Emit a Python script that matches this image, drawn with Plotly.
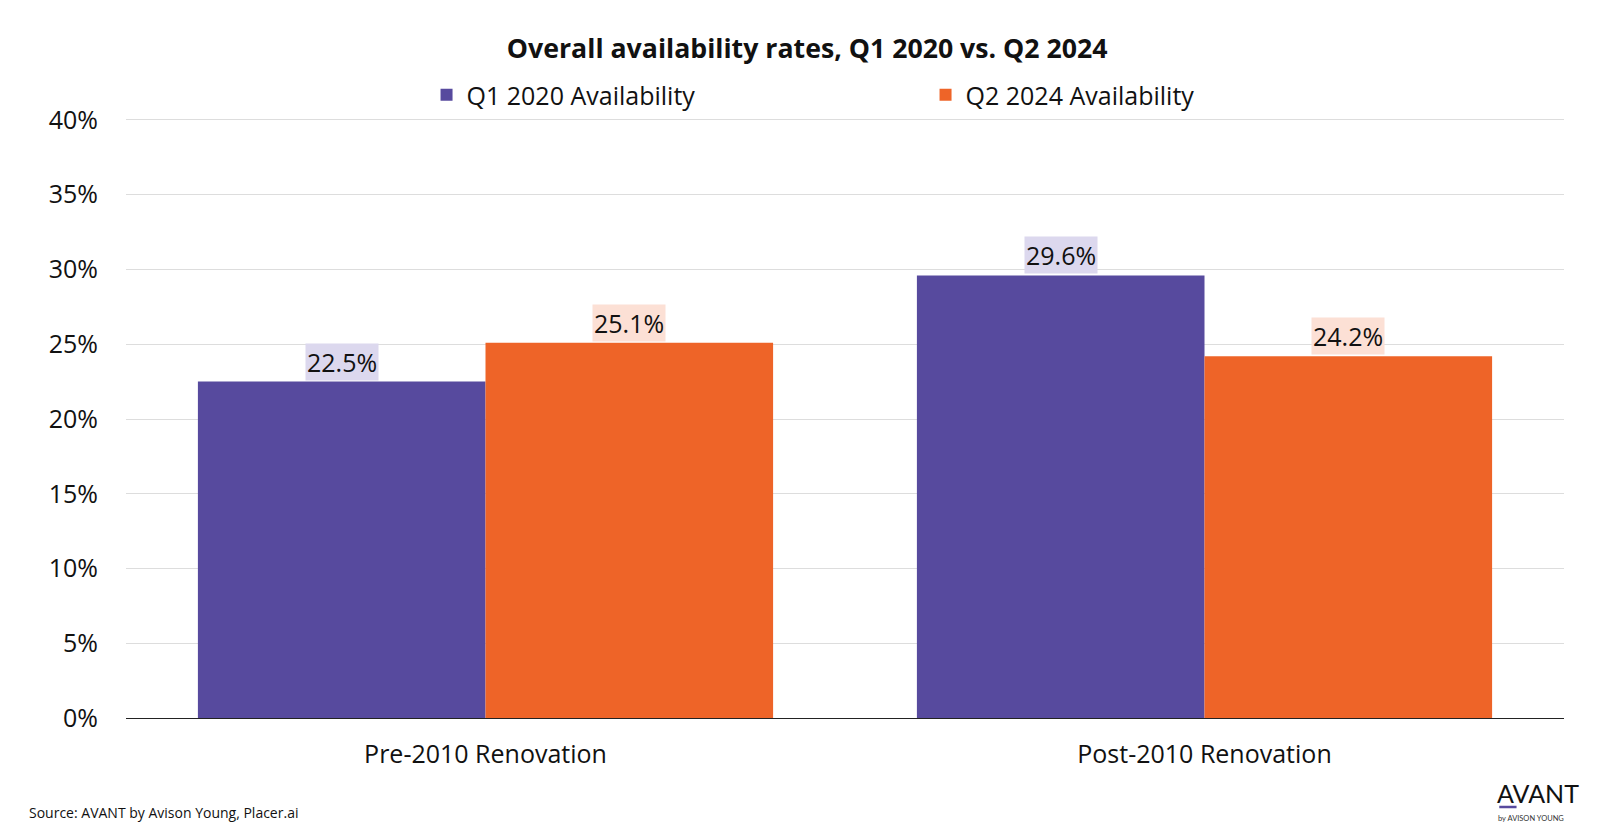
import plotly.graph_objects as go

categories = ["Pre-2010 Renovation", "Post-2010 Renovation"]
q1_2020 = [22.5, 29.6]
q2_2024 = [25.1, 24.2]
series_names = ["Q1 2020 Availability", "Q2 2024 Availability"]
y_ticks = [0, 5, 10, 15, 20, 25, 30, 35, 40]

PURPLE = "#574A9E"
ORANGE = "#EE6428"
PURPLE_BG = "#DCD8EE"
ORANGE_BG = "#FCE0D5"
FONT = "Open Sans"
FS = 25

fig = go.Figure()
fig.add_trace(go.Bar(x=categories, y=q1_2020, name=series_names[0], marker_color=PURPLE,
                     marker_line_width=0))
fig.add_trace(go.Bar(x=categories, y=q2_2024, name=series_names[1], marker_color=ORANGE,
                     marker_line_width=0))

for i, (a, b) in enumerate(zip(q1_2020, q2_2024)):
    for off, v, bg in ((-0.2, a, PURPLE_BG), (0.2, b, ORANGE_BG)):
        fig.add_annotation(x=i + off, y=v, xref="x", yref="y", text=f"{v:.1f}%",
                           showarrow=False, yanchor="bottom", yshift=1,
                           bgcolor=bg, borderpad=1,
                           font=dict(family=FONT, size=FS, color="#111111"))

H = 601.0
def py(px_below):  # pixels below plot bottom -> paper y
    return -px_below / H

fig.add_annotation(x=-0.0685, y=py(94), xref="paper", yref="paper", xanchor="left", yanchor="middle",
                   text="Source: AVANT by Avison Young, Placer.ai", showarrow=False,
                   font=dict(family=FONT, size=14, color="#111111"))
fig.add_annotation(x=1.012, y=py(75), xref="paper", yref="paper", xanchor="right", yanchor="middle",
                   text="AVANT", showarrow=False,
                   font=dict(family="Lato", size=25, color="#111111"))
fig.add_annotation(x=1.0015, y=py(100), xref="paper", yref="paper", xanchor="right", yanchor="middle",
                   text="by AVISON YOUNG", showarrow=False,
                   font=dict(family="Lato", size=7.5, color="#333333"))
fig.add_shape(type="line", xref="paper", yref="paper", x0=0.955, x1=0.967, y0=py(89), y1=py(89),
              line=dict(color=PURPLE, width=2.5))

fig.update_layout(
    width=1600, height=840,
    margin=dict(l=118, r=44, t=109, b=130),
    paper_bgcolor="white", plot_bgcolor="white",
    barmode="group", bargap=0.2, bargroupgap=0,
    title=dict(text="<b>Overall availability rates, Q1 2020 vs. Q2 2024</b>", x=0.4995, xanchor="center",
               y=0.952, yanchor="middle", font=dict(family=FONT, size=26.7, color="#111111")),
    legend=dict(orientation="h", x=0.209, xanchor="left", y=1.0366, yanchor="middle",
                font=dict(family=FONT, size=FS, color="#111111"),
                entrywidth=454, entrywidthmode="pixels", itemwidth=30,
                bgcolor="rgba(0,0,0,0)"),
    font=dict(family=FONT, size=FS, color="#111111"),
    showlegend=True,
)
fig.update_yaxes(range=[0, 40.2], tickvals=y_ticks, ticktext=[f"{t}%" for t in y_ticks],
                 showgrid=True, gridcolor="#DDDDDD", gridwidth=1, zeroline=False,
                 ticks="", ticklabelstandoff=27, showline=False, automargin=False,
                 tickfont=dict(family=FONT, size=FS, color="#111111"))
fig.update_xaxes(showline=True, linecolor="#222222", linewidth=1.2, ticks="", automargin=False,
                 ticklabelstandoff=14, tickfont=dict(family=FONT, size=FS, color="#111111"))

fig.write_html("out.html")
